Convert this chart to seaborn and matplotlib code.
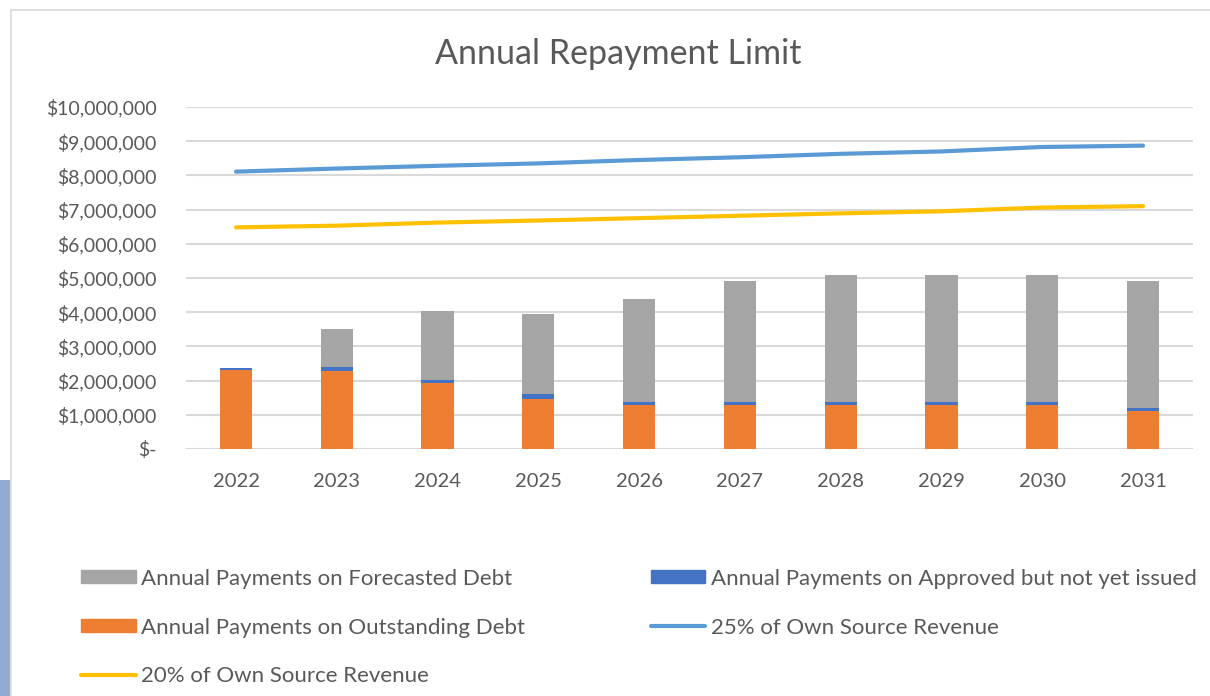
import numpy as np
import seaborn as sns
import matplotlib.pyplot as plt
from matplotlib.patches import Patch, Rectangle
from matplotlib.lines import Line2D
from matplotlib.ticker import FuncFormatter

years = ["2022", "2023", "2024", "2025", "2026", "2027", "2028", "2029", "2030", "2031"]
outstanding = [2.31, 2.28, 1.94, 1.47, 1.30, 1.30, 1.30, 1.30, 1.30, 1.12]
approved = [0.05, 0.12, 0.08, 0.13, 0.07, 0.07, 0.07, 0.07, 0.07, 0.07]
forecasted = [0.00, 1.11, 2.01, 2.34, 3.02, 3.55, 3.72, 3.72, 3.72, 3.73]
osr_25 = [8.11, 8.20, 8.28, 8.35, 8.45, 8.53, 8.63, 8.70, 8.83, 8.87]
osr_20 = [6.48, 6.53, 6.62, 6.68, 6.75, 6.82, 6.89, 6.95, 7.06, 7.10]

labels = ["Annual Payments on Forecasted Debt",
          "Annual Payments on Approved but not yet issued",
          "Annual Payments on Outstanding Debt",
          "25% of Own Source Revenue",
          "20% of Own Source Revenue"]

c_gray, c_blue, c_orange = "#A5A5A5", "#4472C4", "#ED7D31"
c_line25, c_line20 = "#5B9BD5", "#FFC000"
txt = "#595959"

sns.set_theme(style="white")
plt.rcParams['font.family'] = ['Lato', 'DejaVu Sans']

M = 1e6
out = np.array(outstanding) * M
appr = np.array(approved) * M
fc = np.array(forecasted) * M

fig = plt.figure(figsize=(12.1, 6.96), dpi=100)
ax = fig.add_axes([0.1534, 0.3549, 0.8329, 0.4914])

# stacked bars: draw cumulative totals back to front
bar_kw = dict(width=0.32, ax=ax, saturation=1, linewidth=0, zorder=3)
sns.barplot(x=years, y=out + appr + fc, color=c_gray, **bar_kw)
sns.barplot(x=years, y=out + appr, color=c_blue, **bar_kw)
sns.barplot(x=years, y=out, color=c_orange, **bar_kw)

xpos = np.arange(len(years))
sns.lineplot(x=xpos, y=np.array(osr_25) * M, color=c_line25, lw=3, ax=ax, zorder=4)
sns.lineplot(x=xpos, y=np.array(osr_20) * M, color=c_line20, lw=3, ax=ax, zorder=4)

ax.set_xlim(-0.5, len(years) - 0.5)
ax.set_ylim(0, 10 * M)
ax.set_yticks(np.arange(0, 11) * M)
ax.yaxis.set_major_formatter(FuncFormatter(lambda v, p: "$-" if v == 0 else f"${v:,.0f}"))
ax.grid(axis="y", color="#D9D9D9", lw=1.5, zorder=0)
ax.set_axisbelow(True)
for s in ax.spines.values():
    s.set_visible(False)
ax.tick_params(axis="both", length=0, colors=txt)
ax.tick_params(axis="y", pad=21, labelsize=14)
ax.tick_params(axis="x", pad=17, labelsize=14.5)
ax.set_xlabel("")
ax.set_ylabel("")

fig.text(0.511, 0.923, "Annual Repayment Limit", ha="center", va="center",
         fontsize=24.5, color=txt)

h_fc = Patch(color=c_gray)
h_ap = Patch(color=c_blue)
h_out = Patch(color=c_orange)
h_25 = Line2D([], [], color=c_line25, lw=3)
h_20 = Line2D([], [], color=c_line20, lw=3)

leg_kw = dict(frameon=False, fontsize=16, handlelength=2.45, handleheight=0.5,
              handletextpad=0.25, labelspacing=1.3, borderaxespad=0, borderpad=0,
              labelcolor=txt)
fig.legend([h_fc, h_out, h_20], [labels[0], labels[2], labels[4]],
           loc="upper left", bbox_to_anchor=(0.067, 0.183), **leg_kw)
fig.legend([h_ap, h_25], [labels[1], labels[3]],
           loc="upper left", bbox_to_anchor=(0.538, 0.183), **leg_kw)

# chart frame and screenshot edge
fig.patches.append(Rectangle((0.0095, -0.01), 1.0, 0.996, transform=fig.transFigure,
                             fill=False, ec="#D9D9D9", lw=1.2))
fig.patches.append(Rectangle((0, 0), 0.0085, 0.31, transform=fig.transFigure,
                             color="#93AAD3", lw=0))

fig.savefig("out.png", dpi=100)
